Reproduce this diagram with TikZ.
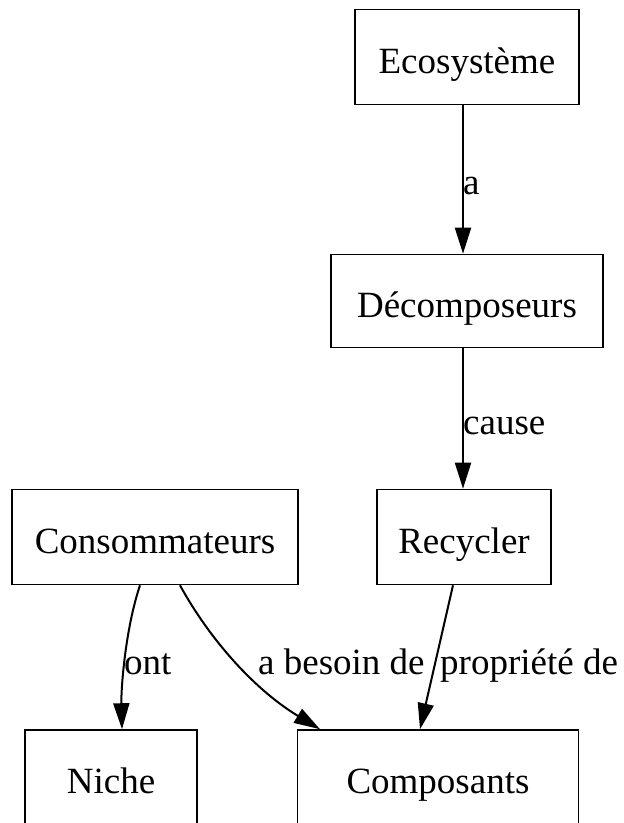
\documentclass[tikz,border=0pt]{standalone}
\usepackage{fontspec}
\setmainfont{Liberation Serif}
\usetikzlibrary{arrows.meta}

\begin{document}
\begin{tikzpicture}[x=1pt,y=-1pt,>={Triangle[length=26pt,width=16pt]},
		box/.style={draw, line width=1.6pt, inner sep=0pt, text height=32pt, text depth=0pt, font=\fontsize{37}{42}\selectfont},
		lbl/.style={font=\fontsize{37}{42}\selectfont, inner sep=0pt, anchor=base west},
		edge/.style={->, line width=2pt}]
		\useasboundingbox (0,0) rectangle (624,823);
		\node[box, minimum width=224pt, minimum height=95pt] (eco) at (467,57) {Ecosystème};
		\node[box, minimum width=272pt, minimum height=93pt] (dec) at (467,301) {Décomposeurs};
		\node[box, minimum width=174pt, minimum height=95pt] (rec) at (464,537) {Recycler};
		\node[box, minimum width=286pt, minimum height=95pt] (cons) at (155,537) {Consommateurs};
		\node[box, minimum width=172pt, minimum height=95pt] (niche) at (111,777.5) {Niche};
		\node[box, minimum width=281pt, minimum height=95pt] (comp) at (438,777.5) {Composants};
		\draw[edge] ([xshift=-4pt]eco.south) -- ([xshift=-4pt]dec.north);
		\node[lbl] at (463,194) {a};
		\draw[edge] ([xshift=-4pt]dec.south) -- ([xshift=-1pt]rec.north);
		\node[lbl] at (463,434) {cause};
		\draw[edge] ([xshift=-15pt]cons.south) .. controls (125,630) and (121,690) .. ([xshift=11pt]niche.north);
		\node[lbl] at (124,674) {ont};
		\draw[edge] ([xshift=25pt]cons.south) .. controls (210,640) and (255,690) .. ([xshift=-118pt]comp.north);
		\node[lbl] at (258,674) {a besoin de};
		\draw[edge] ([xshift=-11pt]rec.south) -- ([xshift=-18pt]comp.north);
		\node[lbl] at (440,674) {propriété de};
	\end{tikzpicture}
\end{document}
